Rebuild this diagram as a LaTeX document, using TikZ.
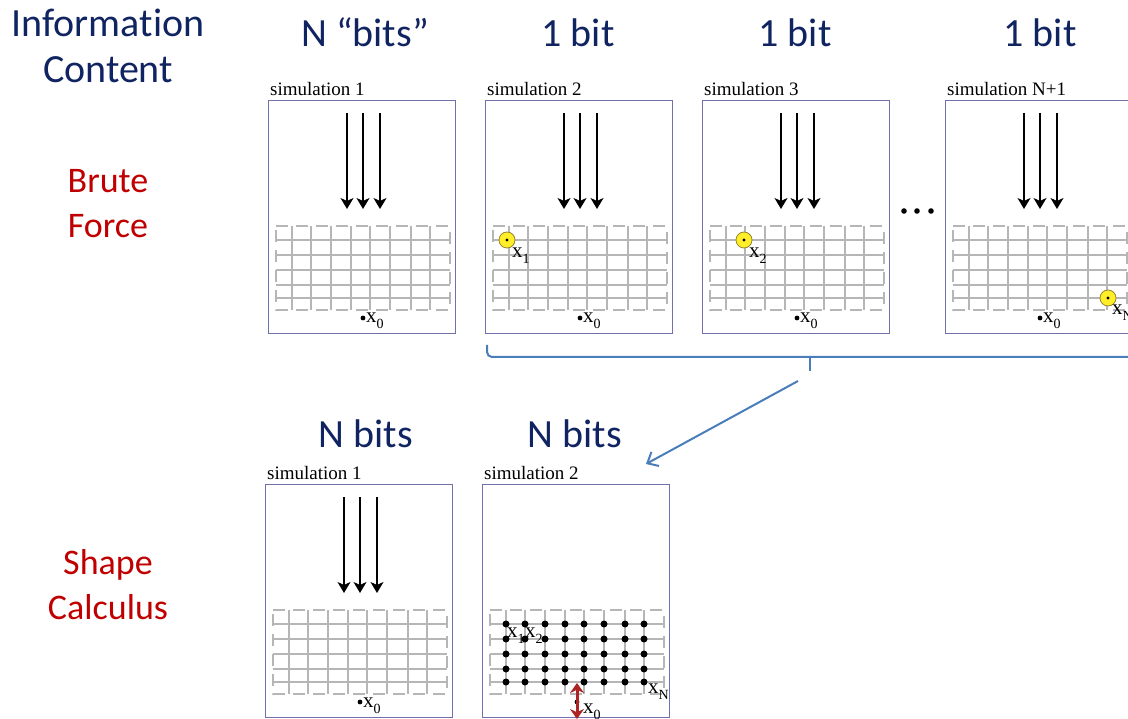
\documentclass[tikz,border=0pt]{standalone}
\usepackage{fontspec}
\setmainfont{Liberation Serif}
\newfontfamily\slidefont[Ligatures=NoCommon]{Carlito}
\usetikzlibrary{arrows.meta, positioning, calc}
\definecolor{titleblue}{RGB}{16,36,98}
\definecolor{methred}{RGB}{192,0,0}
\definecolor{framecol}{RGB}{112,112,172}
\definecolor{bracecol}{RGB}{74,126,187}
\definecolor{hityellow}{RGB}{255,238,40}
\definecolor{hitrim}{RGB}{150,135,40}
\definecolor{gridgray}{RGB}{182,182,182}
\definecolor{gapred}{RGB}{172,36,36}
\newcommand{\xsub}[1]{x\raisebox{-6pt}{\fontsize{14}{14}\selectfont #1}}

\begin{document}
\begin{tikzpicture}[x=1pt, y=-1pt,
  panel/.style={rectangle, draw=framecol, line width=1pt, minimum width=187pt, minimum height=233pt, inner sep=0pt, anchor=north west},
  simlabel/.style={inner sep=0pt, font=\fontsize{19}{19}\selectfont},
  head/.style={anchor=base, inner sep=0pt, font=\slidefont\fontsize{40}{46}\selectfont, text=titleblue, align=center},
  method/.style={anchor=base, inner sep=0pt, font=\slidefont\fontsize{36}{45}\selectfont, text=methred, align=center},
  xlabel/.style={anchor=base west, inner sep=0pt, font=\fontsize{21}{21}\selectfont},
  ray/.style={-{Stealth[length=11pt, width=13pt, inset=3pt]}, line width=1.3pt},
  hit/.style={circle, draw=hitrim, fill=hityellow, line width=0.8pt, minimum size=16pt, inner sep=0pt},
  gridline/.style={draw=gridgray, line width=1.4pt},
  site/.style={circle, fill=black, minimum size=7pt, inner sep=0pt},
  arr/.style={-{Straight Barb[length=9pt, width=16pt]}, line width=2pt, bracecol}
]
\useasboundingbox (0,0) rectangle (1128,719);
\clip (0,0) rectangle (1128,719);
% headings
\node[head] (infohead) at (108,83) {Information\\Content};
\node[head] (hdone) at (365,47) {N “bits”};
\node[head] (hdtwo) at (578,47) {1 bit};
\node[head] (hdthree) at (795,47) {1 bit};
\node[head] (hdfour) at (1040,47) {1 bit};
\node[head] (hdfive) at (366,447) {N bits};
\node[head] (hdsix) at (575,447) {N bits};
\node[method] (brute) at (108,238) {Brute\\Force};
\node[method] (shape) at (108,619) {Shape\\Calculus};
% panels
\foreach \nm/\px/\py/\lab in {sim1/268/100/simulation 1, sim2/485/100/simulation 2,
    sim3/702/100/simulation 3, simN/945/100/simulation N+1,
    shape1/265/484/simulation 1, shape2/482/484/simulation 2} {
  \node[panel] (\nm) at (\px,\py) {};
  \node[simlabel, above right=4pt and 2pt of \nm.north west] (\nm lab) {\lab};
  \begin{scope}[shift={(\nm.north west)}]
    \draw[gridline, dash pattern=on 12pt off 8pt, dash phase=-4pt] (8,126) rectangle (182,210);
    \foreach \gx in {24,43,63,83,102,122,143,162}
      \draw[gridline] (\gx,126) -- (\gx,210);
    \foreach \gy in {140,155,170,185,198}
      \draw[gridline] (8,\gy) -- (182,\gy);
    \fill (95,218) circle (2.4pt);
  \end{scope}
}
% incoming rays and x0
\foreach \nm in {sim1,sim2,sim3,simN,shape1} {
  \begin{scope}[shift={(\nm.north west)}]
    \foreach \rx in {79,95,112}
      \draw[ray] (\rx,13) -- (\rx,109);
    \node[xlabel] (\nm x0) at (98,223) {\xsub{0}};
  \end{scope}
}
% single perturbations
\begin{scope}[shift={(sim2.north west)}]
  \node[hit] (hitone) at (22,140) {};
  \node[xlabel] (hitonelab) at (27,158) {\xsub{1}};
\end{scope}
\begin{scope}[shift={(sim3.north west)}]
  \node[hit] (hittwo) at (42,140) {};
  \node[xlabel] (hittwolab) at (47,158) {\xsub{2}};
\end{scope}
\begin{scope}[shift={(simN.north west)}]
  \node[hit] (hitn) at (163,198) {};
  \node[xlabel] (hitnlab) at (167,215) {\xsub{N}};
\end{scope}
\foreach \h in {hitone,hittwo,hitn}
  \fill (\h) circle (1.6pt);
\fill (904,211) circle (2.8pt) (917,211) circle (2.8pt) (931,211) circle (2.8pt);
% shape calculus sensitivities
\begin{scope}[shift={(shape2.north west)}]
  \foreach \gx in {24,43,63,83,102,122,143,162}
    \foreach \gy in {140,155,170,185,198}
      \node[site] at (\gx,\gy) {};
  \node[xlabel] (sitex1) at (25,153) {\xsub{1}};
  \node[xlabel] (sitex2) at (43,153) {\xsub{2}};
  \node[xlabel] (sitexn) at (166,209) {\xsub{N}};
  \node[xlabel] (shape2x0) at (101,229) {\xsub{0}};
  \coordinate (gaptop) at (95,199);
  \coordinate (gapbot) at (95,235);
\end{scope}
\draw[{Stealth[length=10pt, width=14pt]}-{Stealth[length=10pt, width=14pt]}, line width=3pt, gapred] (gaptop) -- (gapbot);
% brace and arrow
\draw[bracecol, line width=2pt, rounded corners=5pt] (487,345) |- (1135,357) -- (1135,345);
\coordinate (bracetip) at (810,371);
\draw[bracecol, line width=2pt] (810,357) -- (bracetip);
\coordinate (arrowfrom) at (798,381);
\coordinate (arrowto) at (646,464);
\draw[arr] (arrowfrom) -- (arrowto);
\end{tikzpicture}
\end{document}
